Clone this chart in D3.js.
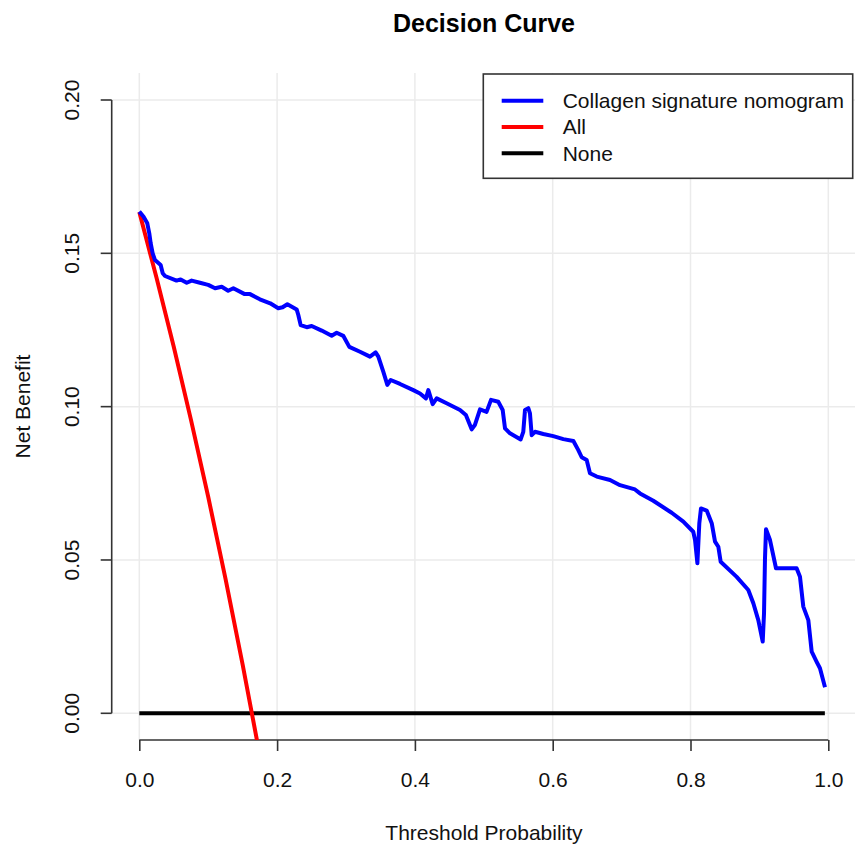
<!DOCTYPE html>
<html>
<head>
<meta charset="utf-8">
<script src="https://cdn.jsdelivr.net/npm/d3@7"></script>
<style>
  body { margin: 0; background: #fff; }
  svg { display: block; font-family: "Liberation Sans", Arial, sans-serif; }
  .grid line { stroke: #ebebeb; stroke-width: 1.5; }
  .axis path, .axis line { stroke: #333; stroke-width: 1.6; }
  .axis text { font-size: 21px; fill: #111; }
</style>
</head>
<body>
<div id="chart"></div>
<script>
// model curve
var modelThreshold = [0, 0.006, 0.0116, 0.0145, 0.0165, 0.0194, 0.0228, 0.031, 0.034, 0.0373,
  0.054, 0.060, 0.0688, 0.076, 0.088, 0.100, 0.110, 0.1196, 0.129, 0.1365,
  0.153, 0.1607, 0.175, 0.190, 0.2017, 0.208, 0.2149, 0.2284, 0.2308, 0.2342,
  0.243, 0.2502, 0.2647, 0.2792, 0.2865, 0.296, 0.3048, 0.3203, 0.3348, 0.343,
  0.3469, 0.3541, 0.36, 0.3649, 0.3784, 0.3977, 0.4074, 0.416, 0.4195, 0.4258,
  0.4316, 0.446, 0.4655, 0.474, 0.4824, 0.487, 0.4945, 0.504, 0.5105, 0.521,
  0.5274, 0.5308, 0.538, 0.5535, 0.5573, 0.5598, 0.5646, 0.567, 0.5695, 0.5743,
  0.5864, 0.6009, 0.6154, 0.630, 0.637, 0.6421, 0.6493, 0.6541, 0.6639, 0.6832,
  0.6977, 0.7194, 0.7267, 0.746, 0.7727, 0.7896, 0.804, 0.8066, 0.81, 0.8128,
  0.8152, 0.8235, 0.8308, 0.8356, 0.8404, 0.8438, 0.867, 0.8839, 0.8912, 0.8984,
  0.9048, 0.9067, 0.9081, 0.9096, 0.9154, 0.9241, 0.954, 0.9589, 0.9637, 0.971,
  0.9759, 0.9831, 0.9879, 0.9952];
var modelBenefit = [0.1636, 0.162, 0.1598, 0.1565, 0.1533, 0.150, 0.1478, 0.1462, 0.1435, 0.1426,
  0.1411, 0.1415, 0.1404, 0.1411, 0.1404, 0.1397, 0.1386, 0.1391, 0.1378, 0.1386,
  0.1367, 0.1367, 0.135, 0.1337, 0.1321, 0.1324, 0.1334, 0.1317, 0.1299, 0.1266,
  0.1259, 0.1263, 0.1248, 0.1231, 0.1241, 0.1231, 0.1195, 0.1179, 0.1163, 0.1177,
  0.1163, 0.1114, 0.1071, 0.1087, 0.1074, 0.1054, 0.1043, 0.1027, 0.1054, 0.1008,
  0.1027, 0.1011, 0.0989, 0.0973, 0.0926, 0.094, 0.0991, 0.0983, 0.1022, 0.1016,
  0.0989, 0.0929, 0.0913, 0.0893, 0.0918, 0.0989, 0.0995, 0.0978, 0.0907, 0.0918,
  0.0911, 0.0904, 0.0894, 0.0888, 0.0859, 0.0835, 0.0826, 0.0783, 0.0772, 0.0761,
  0.0744, 0.073, 0.0717, 0.0693, 0.0654, 0.0625, 0.0592, 0.0565, 0.0489, 0.062,
  0.0668, 0.0661, 0.062, 0.056, 0.0543, 0.0494, 0.0445, 0.0402, 0.0359, 0.0304,
  0.0234, 0.0326, 0.0505, 0.060, 0.0565, 0.0473, 0.0473, 0.0445, 0.0348, 0.0304,
  0.0201, 0.0168, 0.0147, 0.0085];

// treat-all line
var allThreshold = [0, 0.025, 0.05, 0.075, 0.10, 0.125, 0.15, 0.1727];
var allBenefit = [0.1635, 0.142, 0.1195, 0.0957, 0.0706, 0.044, 0.0159, -0.0111];

// treat-none line
var noneThreshold = [0, 0.995];
var noneBenefit = [0, 0];

var xTicks = [0, 0.2, 0.4, 0.6, 0.8, 1.0];
var yTicks = [0, 0.05, 0.10, 0.15, 0.20];

var legendLabels = ['Collagen signature nomogram', 'All', 'None'];
var legendColors = ['#0000ff', '#ff0000', '#000000'];

var W = 855, H = 848;
var plot = {left: 111.7, right: 856, top: 73, bottom: 740};

var x = d3.scaleLinear().domain([0, 1]).range([139.3, 828.3]);
var y = d3.scaleLinear().domain([0, 0.2]).range([713.3, 100]);

var svg = d3.select('#chart').append('svg')
  .attr('width', W).attr('height', H);

svg.append('defs').append('clipPath').attr('id', 'plotclip')
  .append('rect')
  .attr('x', plot.left).attr('y', plot.top)
  .attr('width', plot.right - plot.left)
  .attr('height', plot.bottom - plot.top);

// grid
var grid = svg.append('g').attr('class', 'grid');
grid.selectAll('.gx').data(xTicks).enter().append('line')
  .attr('x1', function(d) { return x(d); }).attr('x2', function(d) { return x(d); })
  .attr('y1', plot.top).attr('y2', plot.bottom);
grid.selectAll('.gy').data(yTicks).enter().append('line')
  .attr('x1', plot.left).attr('x2', plot.right)
  .attr('y1', function(d) { return y(d); }).attr('y2', function(d) { return y(d); });

// axes, R style: the axis line only spans the ticks
var xAxis = svg.append('g').attr('class', 'axis')
  .attr('transform', 'translate(0,' + plot.bottom + ')')
  .call(d3.axisBottom(x).tickValues(xTicks).tickSize(11).tickFormat(d3.format('.1f')));
xAxis.select('.domain').attr('d', 'M' + x(0) + ',0H' + x(1));
xAxis.selectAll('text').attr('y', 40).attr('dy', '0.35em');

var yAxis = svg.append('g').attr('class', 'axis')
  .attr('transform', 'translate(' + plot.left + ',0)')
  .call(d3.axisLeft(y).tickValues(yTicks).tickSize(11).tickFormat(d3.format('.2f')));
yAxis.select('.domain').attr('d', 'M0,' + y(0) + 'V' + y(0.2));
yAxis.selectAll('text')
  .attr('x', 0).attr('y', 0).attr('dy', '0.35em')
  .attr('text-anchor', 'middle')
  .attr('transform', function(d) { return 'translate(-39.7,' + y(d) + ') rotate(-90)'; });
yAxis.selectAll('.tick').attr('transform', null);
yAxis.selectAll('.tick line').attr('y1', function(d) { return y(d); }).attr('y2', function(d) { return y(d); });

// curves
var line = d3.line()
  .x(function(d) { return x(d[0]); })
  .y(function(d) { return y(d[1]); });

var curves = svg.append('g').attr('clip-path', 'url(#plotclip)');
function drawCurve(ts, vs, color) {
  curves.append('path')
    .datum(d3.zip(ts, vs))
    .attr('d', line)
    .attr('fill', 'none')
    .attr('stroke', color)
    .attr('stroke-width', 4)
    .attr('stroke-linejoin', 'round');
}
drawCurve(noneThreshold, noneBenefit, legendColors[2]);
drawCurve(allThreshold, allBenefit, legendColors[1]);
drawCurve(modelThreshold, modelBenefit, legendColors[0]);

// titles
svg.append('text')
  .attr('x', 484).attr('y', 32)
  .attr('text-anchor', 'middle')
  .attr('font-size', 25).attr('font-weight', 'bold')
  .text('Decision Curve');
svg.append('text')
  .attr('x', 484).attr('y', 840)
  .attr('text-anchor', 'middle')
  .attr('font-size', 21).attr('fill', '#111')
  .text('Threshold Probability');
svg.append('text')
  .attr('transform', 'translate(23,406.5) rotate(-90)')
  .attr('dy', '0.35em')
  .attr('text-anchor', 'middle')
  .attr('font-size', 21).attr('fill', '#111')
  .text('Net Benefit');

// legend
var legend = svg.append('g');
legend.append('rect')
  .attr('x', 483.3).attr('y', 74)
  .attr('width', 369.4).attr('height', 104.3)
  .attr('fill', '#fff').attr('stroke', '#333').attr('stroke-width', 1.6);
var items = legend.selectAll('.item').data(legendLabels).enter().append('g')
  .attr('transform', function(d, i) { return 'translate(0,' + (100.7 + i * 26.3) + ')'; });
items.append('line')
  .attr('x1', 501.7).attr('x2', 543.3)
  .attr('stroke', function(d, i) { return legendColors[i]; })
  .attr('stroke-width', 4);
items.append('text')
  .attr('x', 562.7).attr('dy', '0.35em')
  .attr('font-size', 21).attr('fill', '#111')
  .text(function(d) { return d; });
</script>
</body>
</html>
